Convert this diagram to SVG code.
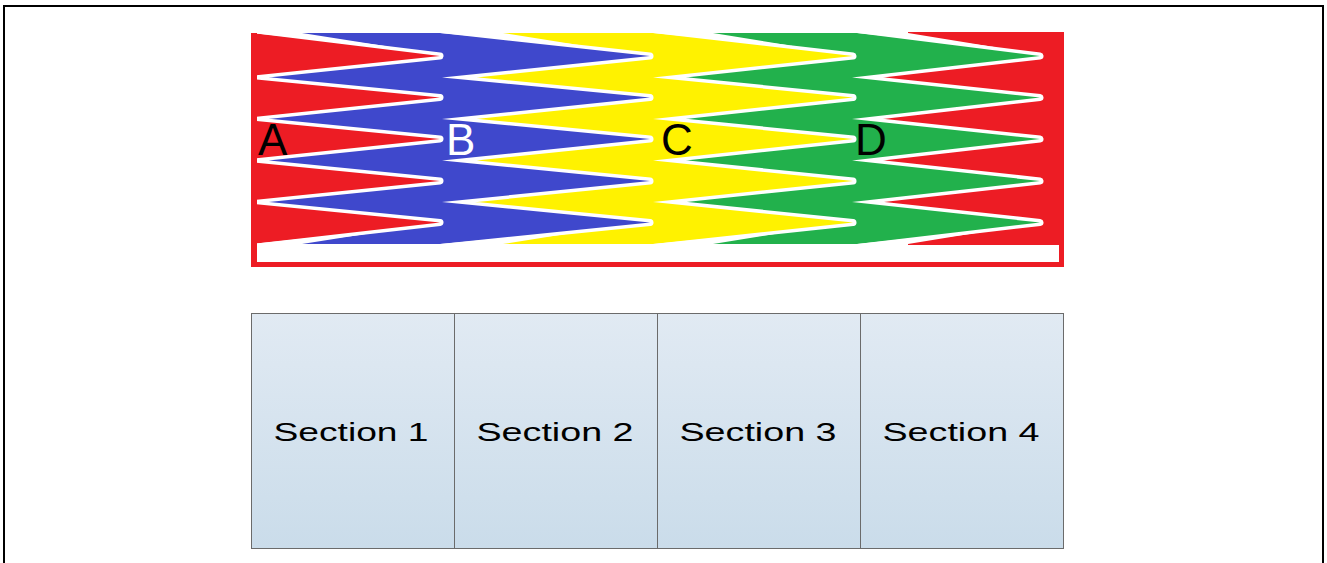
<svg xmlns="http://www.w3.org/2000/svg" width="1327" height="563" viewBox="0 0 1327 563">
  <defs>
    <linearGradient id="sectionFill" x1="0" y1="0" x2="0" y2="1">
      <stop offset="0" stop-color="#E1EAF3"/>
      <stop offset="1" stop-color="#CADCEA"/>
    </linearGradient>
    <clipPath id="combArea">
      <rect x="251" y="28" width="813" height="240"/>
    </clipPath>
    <style>
      .comb { stroke: #FFFFFF; stroke-width: 7; stroke-linejoin: round; paint-order: stroke; }
      .red { fill: #ED1C24; }
      .blue { fill: #3F48CC; }
      .yellow { fill: #FFF200; }
      .green { fill: #22B14C; }
      .notch { fill: #FFFFFF; }
      .letter { font-family: "Liberation Sans", Arial, sans-serif; font-size: 44px; }
      .section { fill: url(#sectionFill); stroke: #6B6B6B; stroke-width: 1; }
      .section-label { font-family: "Liberation Sans", Arial, sans-serif; font-size: 26px; fill: #000000; text-anchor: middle; }
    </style>
  </defs>

  <rect width="1327" height="563" fill="#FFFFFF"/>

  <!-- outer frame, open at the bottom -->
  <path d="M4,563 V6 H1323 V563" fill="none" stroke="#000000" stroke-width="2"/>

  <!-- interlocking combs -->
  <g id="combs">
    <g clip-path="url(#combArea)">
      <!-- red base: right-hand comb and bottom rail -->
      <rect class="red" x="251" y="32" width="813" height="235"/>
      <g id="comb-d">
        <polygon class="comb green" points="653,33 853,56 653,77.5 853,97.5 653,119 853,139 653,160.5 853,181 653,202 853,222.5 653,244 857,244 1040,222.5 852,202 1040,181 852,160.5 1040,139 852,119 1040,97.5 852,77.5 1040,56 857,33"/>
      </g>
      <g id="comb-c">
        <polygon class="comb yellow" points="440,33 650,56 442,77.5 650,97.5 442,119 650,139 442,160.5 650,181 442,202 650,222.5 440,244 653,244 853,222.5 653,202 853,181 653,160.5 853,139 653,119 853,97.5 653,77.5 853,56 653,33"/>
      </g>
      <g id="comb-b">
        <polygon class="comb blue" points="251,33 440,56 235,77.5 440,97.5 235,119 440,139 235,160.5 440,181 235,202 440,222.5 251,244 440,244 650,222.5 442,202 650,181 442,160.5 650,139 442,119 650,97.5 442,77.5 650,56 440,33"/>
      </g>
      <g id="comb-a">
        <polygon class="comb red" points="200,33 251,33 440,56 235,77.5 440,97.5 235,119 440,139 235,160.5 440,181 235,202 440,222.5 251,244 200,244"/>
      </g>
      <!-- open notches where each comb meets the top and bottom edges -->
      <polygon class="notch" points="251,30 302,30 302,33 391,47 251,33"/>
      <polygon class="notch" points="251,247 302,247 302,244 391,230 251,244"/>
      <polygon class="notch" points="440,30 503,30 503,33 580,45.3 440,33"/>
      <polygon class="notch" points="440,247 503,247 503,244 580,231.7 440,244"/>
      <polygon class="notch" points="653,30 713,30 713,33 793,46.1 653,33"/>
      <polygon class="notch" points="653,247 713,247 713,244 793,230.9 653,244"/>
      <polygon class="notch" points="857,30 908,30 908,33 997,47.6 857,33"/>
      <polygon class="notch" points="857,247 908,247 908,244 997,229.4 857,244"/>
    </g>
    <!-- left spine and the open channel above the bottom rail -->
    <rect class="red" x="251" y="33" width="6" height="234"/>
    <rect x="257" y="245" width="802" height="17" fill="#FFFFFF"/>

    <text class="letter" x="258" y="155" fill="#000000">A</text>
    <text class="letter" x="446" y="155" fill="#FFFFFF">B</text>
    <text class="letter" x="661" y="155" fill="#000000">C</text>
    <text class="letter" x="855" y="155" fill="#000000">D</text>
  </g>

  <!-- section row -->
  <g id="section-1">
    <rect class="section" x="251.5" y="313.5" width="203" height="235"/>
    <text class="section-label" x="351" y="441" textLength="155" lengthAdjust="spacingAndGlyphs">Section 1</text>
  </g>
  <g id="section-2">
    <rect class="section" x="454.5" y="313.5" width="203" height="235"/>
    <text class="section-label" x="555" y="441" textLength="157" lengthAdjust="spacingAndGlyphs">Section 2</text>
  </g>
  <g id="section-3">
    <rect class="section" x="657.5" y="313.5" width="203" height="235"/>
    <text class="section-label" x="758" y="441" textLength="157" lengthAdjust="spacingAndGlyphs">Section 3</text>
  </g>
  <g id="section-4">
    <rect class="section" x="860.5" y="313.5" width="203" height="235"/>
    <text class="section-label" x="961" y="441" textLength="157" lengthAdjust="spacingAndGlyphs">Section 4</text>
  </g>
</svg>
